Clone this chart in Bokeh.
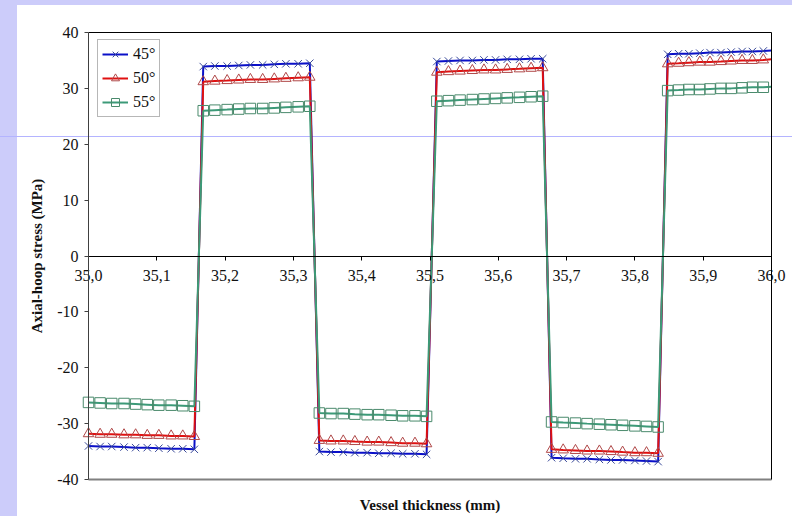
from bokeh.plotting import figure
from bokeh.models import LinearAxis, FixedTicker, CustomJSTickFormatter, Range1d
from bokeh.embed import file_html
from bokeh.resources import INLINE

# ---- data ----
x_vals = [35.000, 35.017, 35.034, 35.052, 35.069, 35.086, 35.103, 35.121, 35.138, 35.155,
          35.168, 35.185, 35.203, 35.220, 35.237, 35.255, 35.272, 35.289, 35.307, 35.324,
          35.338, 35.355, 35.373, 35.390, 35.408, 35.425, 35.443, 35.460, 35.478, 35.495,
          35.510, 35.527, 35.544, 35.562, 35.579, 35.596, 35.613, 35.631, 35.648, 35.665,
          35.678, 35.695, 35.713, 35.730, 35.748, 35.765, 35.782, 35.800, 35.817, 35.834,
          35.848, 35.864, 35.879, 35.895, 35.910, 35.926, 35.941, 35.957, 35.972, 35.988,
          36.000]

s45 = [-34.0, -34.1, -34.1, -34.2, -34.3, -34.3, -34.4, -34.5, -34.5, -34.6,
       33.9, 34.0, 34.0, 34.1, 34.2, 34.2, 34.3, 34.4, 34.4, 34.5,
       -35.0, -35.1, -35.1, -35.2, -35.2, -35.3, -35.3, -35.4, -35.4, -35.5,
       34.8, 34.9, 35.0, 35.0, 35.1, 35.1, 35.2, 35.2, 35.3, 35.3,
       -36.1, -36.2, -36.3, -36.3, -36.4, -36.5, -36.5, -36.6, -36.7, -36.8,
       36.1, 36.2, 36.2, 36.3, 36.4, 36.4, 36.5, 36.6, 36.6, 36.7,
       36.8]

s50 = [-31.8, -31.9, -31.9, -32.0, -32.0, -32.1, -32.1, -32.2, -32.2, -32.3,
       31.2, 31.3, 31.4, 31.5, 31.6, 31.6, 31.7, 31.8, 31.9, 32.0,
       -33.0, -33.1, -33.1, -33.2, -33.3, -33.3, -33.4, -33.5, -33.5, -33.6,
       32.9, 33.0, 33.1, 33.2, 33.3, 33.3, 33.4, 33.5, 33.6, 33.7,
       -34.6, -34.7, -34.8, -34.9, -34.9, -35.0, -35.1, -35.2, -35.2, -35.3,
       34.4, 34.5, 34.6, 34.7, 34.7, 34.8, 34.9, 35.0, 35.0, 35.1,
       35.2]

s55 = [-26.2, -26.3, -26.4, -26.4, -26.5, -26.6, -26.7, -26.7, -26.8, -26.9,
       26.0, 26.1, 26.2, 26.3, 26.4, 26.4, 26.5, 26.6, 26.7, 26.8,
       -28.1, -28.2, -28.2, -28.3, -28.4, -28.4, -28.5, -28.6, -28.6, -28.7,
       27.7, 27.8, 27.9, 28.0, 28.1, 28.2, 28.3, 28.4, 28.5, 28.6,
       -29.7, -29.8, -29.9, -30.0, -30.1, -30.2, -30.3, -30.4, -30.5, -30.6,
       29.6, 29.7, 29.8, 29.8, 29.9, 30.0, 30.0, 30.1, 30.2, 30.2,
       30.3]

x_ticks = [35.0, 35.1, 35.2, 35.3, 35.4, 35.5, 35.6, 35.7, 35.8, 35.9, 36.0]
y_ticks = [-40, -30, -20, -10, 0, 10, 20, 30, 40]

FONT = "Liberation Serif"
TXT = "#111111"

# layout: where the data box sits on the 792x516 canvas (pixels)
W, H = 792, 516
BOX_L, BOX_R, BOX_T, BOX_B = 88, 771, 32, 479
X0, X1 = x_ticks[0], x_ticks[-1]
Y0, Y1 = y_ticks[0], y_ticks[-1]
kx = (BOX_R - BOX_L) / (X1 - X0)
ky = (BOX_B - BOX_T) / (Y1 - Y0)
xr = Range1d(X0 - BOX_L / kx, X1 + (W - BOX_R) / kx)
yr = Range1d(Y0 - (H - BOX_B) / ky, Y1 + BOX_T / ky)

p = figure(width=W, height=H, output_backend="svg", toolbar_location=None,
           x_range=xr, y_range=yr, x_axis_location=None, y_axis_location=None,
           min_border=0)
p.border_fill_alpha = 0
p.background_fill_alpha = 0
p.outline_line_color = None
p.xgrid.visible = False
p.ygrid.visible = False

series = [
    (s45, "45°", "#0a10c8", "x", "#3a4a9a"),
    (s50, "50°", "#e01010", "triangle", "#b04848"),
    (s55, "55°", "#3c9a78", "square", "#4a8a6c"),
]
for ys, lab, lc, mk, mc in series:
    p.line(x_vals, ys, line_color=lc, line_width=2, legend_label=lab)
    p.scatter(x_vals[:-1], ys[:-1], marker=mk, size=10.5, fill_color=None,
              line_color=mc, line_width=1, legend_label=lab)


def bare_axis(loc, color, width, bounds):
    ax = LinearAxis(fixed_location=loc, ticker=FixedTicker(ticks=[]), bounds=bounds)
    ax.major_tick_line_color = None
    ax.minor_tick_line_color = None
    ax.axis_line_color = color
    ax.axis_line_width = width
    return ax


# y axis at the left edge of the box
ya = LinearAxis(fixed_location=X0, bounds=(Y0, Y1), ticker=FixedTicker(ticks=y_ticks),
                formatter=CustomJSTickFormatter(code="return tick.toFixed(0);"))
ya.minor_tick_line_color = None
ya.major_tick_in = 0
ya.major_tick_out = 4
ya.axis_line_color = "#404040"
ya.major_tick_line_color = "#404040"
ya.major_label_text_font = FONT
ya.major_label_text_font_size = "16px"
ya.major_label_text_color = TXT
ya.major_label_standoff = 6
ya.axis_label = "Axial-hoop stress (MPa)"
ya.axis_label_text_font = FONT
ya.axis_label_text_font_size = "15px"
ya.axis_label_text_font_style = "bold"
ya.axis_label_text_color = TXT
ya.axis_label_standoff = 9
p.add_layout(ya, "left")

# x axis crossing at zero
xa = LinearAxis(fixed_location=0, bounds=(X0, X1), ticker=FixedTicker(ticks=x_ticks),
                formatter=CustomJSTickFormatter(code="return tick.toFixed(1).replace('.', ',');"))
xa.minor_tick_line_color = None
xa.major_tick_in = 0
xa.major_tick_out = 4
xa.axis_line_color = "black"
xa.major_label_text_font = FONT
xa.major_label_text_font_size = "16px"
xa.major_label_text_color = TXT
xa.major_label_standoff = 10
p.add_layout(xa, "below")

# bottom edge of the box, carrying the axis title
xb = bare_axis(Y0, "#808080", 2, (X0, X1))
xb.axis_label = "Vessel thickness (mm)"
xb.axis_label_text_font = FONT
xb.axis_label_text_font_size = "15px"
xb.axis_label_text_font_style = "bold"
xb.axis_label_text_color = TXT
xb.axis_label_standoff = 17
p.add_layout(xb, "below")

# top and right edges of the box
p.add_layout(bare_axis(Y1, "black", 1, (X0, X1)), "above")
p.add_layout(bare_axis(X1, "black", 1, (Y0, Y1)), "right")

lg = p.legend[0]
lg.location = (97, H - 117)
lg.padding = 4
lg.spacing = 4
lg.glyph_width = 26
lg.glyph_height = 20
lg.label_height = 20
lg.label_standoff = 5
lg.label_text_font = FONT
lg.label_text_font_size = "16px"
lg.label_text_color = TXT
lg.border_line_color = "#707070"
lg.border_line_width = 1.5
lg.background_fill_color = "white"
lg.background_fill_alpha = 1

html = file_html(p, INLINE)
css = ("<style>html{min-height:100%;background:"
       "linear-gradient(to bottom, #ccccfa 0, #ccccfa 5px, transparent 5px),"
       "linear-gradient(to bottom, transparent 136px, #b4b4ff 136px, #b4b4ff 137px, transparent 137px),"
       "linear-gradient(to right, #ccccfa 0, #ccccfa 17px, #ffffff 17px);}"
       "body{background:transparent;}</style>")
html = html.replace("<head>", "<head>" + css, 1)
open("out.html", "w").write(html)
